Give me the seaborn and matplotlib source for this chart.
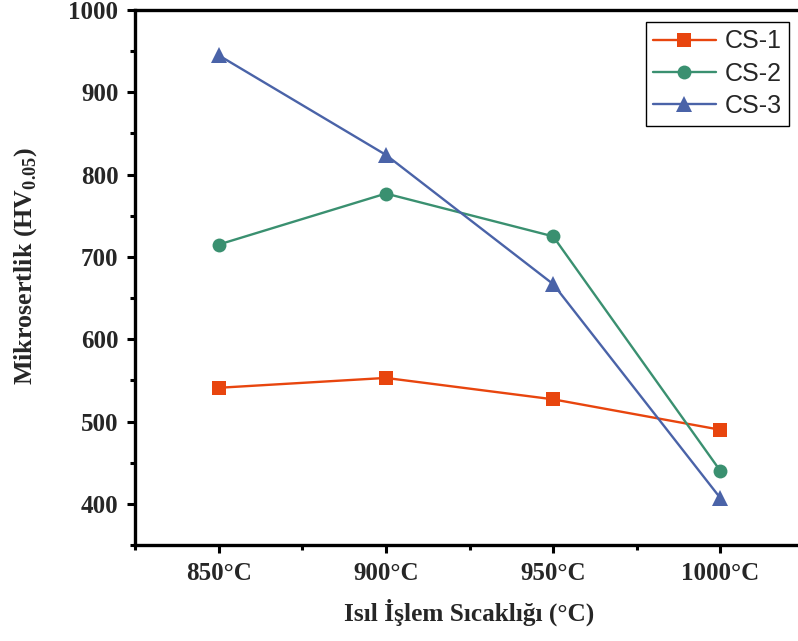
import matplotlib
matplotlib.use("Agg")
import matplotlib.pyplot as plt
import seaborn as sns
import pandas as pd
from matplotlib.ticker import MultipleLocator, FixedLocator

temps = [850, 900, 950, 1000]
temp_labels = ["850°C", "900°C", "950°C", "1000°C"]
cs1 = [541, 553, 527, 490]
cs2 = [715, 777, 725, 440]
cs3 = [945, 824, 667, 407]
series_names = ["CS-1", "CS-2", "CS-3"]
colors = ["#E8450E", "#3A9070", "#4A63A8"]
markers = ["s", "o", "^"]

sns.set_theme(style="white")
plt.rcParams["font.family"] = ["Liberation Serif", "DejaVu Serif"]
plt.rcParams["mathtext.fontset"] = "custom"
plt.rcParams["mathtext.rm"] = "Liberation Serif:bold"
plt.rcParams["mathtext.bf"] = "Liberation Serif:bold"

df = pd.DataFrame({
    "temp": temps * 3,
    "val": cs1 + cs2 + cs3,
    "series": [s for s in series_names for _ in temps],
})

fig = plt.figure(figsize=(7.98, 6.41), dpi=100)
ax = fig.add_axes([135/798, 1 - 545/641, (804-135)/798, (545-10)/641])

for name, col, mk in zip(series_names, colors, markers):
    sub = df[df["series"] == name]
    ms = 9.5 if mk == "s" else (10 if mk == "o" else 11)
    sns.lineplot(data=sub, x="temp", y="val", ax=ax, color=col, marker=mk,
                 markersize=ms, markeredgewidth=0, linewidth=1.7, label=name)

ax.set_xlim(825, 1025)
ax.set_ylim(350, 1000)
ax.xaxis.set_major_locator(FixedLocator(temps))
ax.set_xticklabels(temp_labels)
ax.xaxis.set_minor_locator(MultipleLocator(25))
ax.yaxis.set_major_locator(MultipleLocator(100))
ax.yaxis.set_minor_locator(MultipleLocator(50))

for sp in ["left", "bottom", "top"]:
    ax.spines[sp].set_linewidth(2.4)
    ax.spines[sp].set_color("black")
ax.spines["right"].set_visible(False)

ax.tick_params(axis="both", which="major", direction="out", length=6, width=2.2,
               color="black", labelsize=18, pad=6)
ax.tick_params(axis="both", which="minor", direction="out", length=3.5, width=2.2,
               color="black")
ax.tick_params(bottom=True, left=True, top=False, right=False)
ax.tick_params(axis="both", which="minor", bottom=True, left=True)
for lbl in ax.get_xticklabels() + ax.get_yticklabels():
    lbl.set_fontweight("bold")

ax.set_xlabel("Isıl İşlem Sıcaklığı (°C)", fontsize=18.2, fontweight="bold", labelpad=10)
ax.set_ylabel(r"Mikrosertlik (HV$_{0.05}$)", fontsize=18.7, fontweight="bold")
ax.yaxis.set_label_coords(-0.143, 0.521)

leg = ax.legend(loc="upper right", bbox_to_anchor=((789-135)/669, (545-22)/535),
                frameon=True, fancybox=False, framealpha=1, edgecolor="black",
                prop={"family": "Liberation Sans", "size": 18},
                handlelength=2.5, handletextpad=0.35, labelspacing=0.33,
                borderpad=0.3, borderaxespad=0)
leg.get_frame().set_linewidth(1.0)

fig.savefig("out.png", dpi=100)
